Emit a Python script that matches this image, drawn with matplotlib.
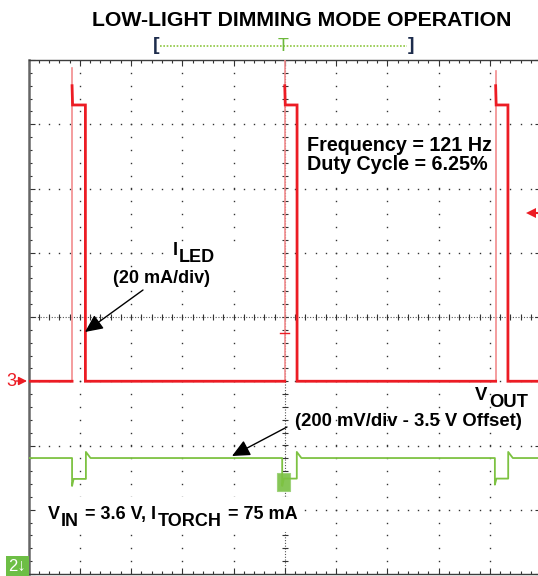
import numpy as np
import matplotlib
matplotlib.use("Agg")
import matplotlib.pyplot as plt
from matplotlib.patches import Rectangle
from matplotlib.lines import Line2D
from matplotlib.ticker import MultipleLocator

W, H = 538, 576
FONT = ["Liberation Sans", "DejaVu Sans"]
plt.rcParams["font.family"] = FONT

ms_per_div = 2.0          # time base
ma_per_div = 20.0         # I_LED scale
v_per_div = 0.2           # V_OUT scale
v_offset = 3.5            # V_OUT offset
ch3_ref_div = -1.0        # I_LED ground marker position
ch2_ref_div = -4.5        # V_OUT reference (below screen)

led_rise_ms = [-8.30, 0.00, 8.23]
led_fall_ms = [-7.78, 0.48, 8.71]
led_edge_peak_mA = [97.5, 100.0, 96.7]
led_step_mA = [92.0, 92.0, 92.0]
led_on_mA = [86.0, 86.0, 86.0]
led_off_mA = 0.0

vout_dip_start_ms = [-8.30, -0.10, 8.20]
vout_dip_end_ms = [-7.76, 0.47, 8.72]
vout_idle_V = 3.961
vout_dip_peak_V = [3.874, 3.874, 3.878]
vout_dip_V = [3.896, 3.897, 3.897]
vout_overshoot_V = [3.980, 3.980, 3.980]

title = "LOW-LIGHT DIMMING MODE OPERATION"
freq_text = "Frequency = 121 Hz"
duty_text = "Duty Cycle = 6.25%"

# ---------------- figure ----------------
fig = plt.figure(figsize=(W / 100, H / 100), dpi=100, facecolor="white")
ax = fig.add_axes([28.5 / W, 1 - 574 / H, 512.5 / W, 514 / H])
ax.set_xlim(-5, 5)
ax.set_ylim(-4, 4)
ax.set_facecolor("white")


def P(x, y):
    return (x / W, 1 - y / H)


def D(px, py):
    return ((px - 284.75) / 51.25, (317 - py) / 64.25)


# border ticks
ax.xaxis.set_major_locator(MultipleLocator(1))
ax.xaxis.set_minor_locator(MultipleLocator(0.2))
ax.yaxis.set_major_locator(MultipleLocator(1))
ax.yaxis.set_minor_locator(MultipleLocator(0.2))
ax.tick_params(which="both", direction="in", top=True, right=True,
               labelbottom=False, labelleft=False, color="#333333", width=0.8)
ax.tick_params(which="major", length=4)
ax.tick_params(which="minor", length=2.5)
for s in ax.spines.values():
    s.set_color("#3c3c3c")
    s.set_linewidth(1.0)
ax.spines["left"].set_linewidth(1.8)
ax.spines["left"].set_color("#666666")

# grid dots
fine_x = np.arange(-5, 5.001, 0.2)
fine_y = np.arange(-4, 4.001, 0.2)
for k in range(-4, 5):
    if k == 0:
        continue
    ax.plot(np.full(fine_y.size, k), fine_y, ls="none", marker="s", ms=1.0,
            color="#333333", mew=0, zorder=1)
for k in range(-3, 4):
    if k == 0:
        continue
    ax.plot(fine_x, np.full(fine_x.size, k), ls="none", marker="s", ms=1.0,
            color="#333333", mew=0, zorder=1)
# center axes
ax.plot([-5, 5], [0, 0], ls=(0, (1, 1.5)), lw=0.8, color="#555555", zorder=1)
ax.plot([0, 0], [-4, 4], ls=(0, (1, 1.5)), lw=0.8, color="#555555", zorder=1)
ax.plot(fine_x, np.zeros(fine_x.size), ls="none", marker="|", ms=4, mew=0.8,
        color="#333333", zorder=1)
ax.plot(np.zeros(fine_y.size), fine_y, ls="none", marker="_", ms=4, mew=0.8,
        color="#333333", zorder=1)


# white label backgrounds
def wbox(x0, y0, x1, y1):
    a = D(x0, y1)
    b = D(x1, y0)
    ax.add_patch(Rectangle(a, b[0] - a[0], b[1] - a[1], fc="white", ec="none", zorder=1.5))


wbox(300, 128, 493, 183)
wbox(166, 243, 282, 290)
wbox(34, 497, 304, 532)

# ---------------- traces ----------------
RED = "#EC1C24"
PINK = "#F28C8E"
GREEN = "#7DC242"

# I_LED thick trace (rising edges drawn thin separately)
t0, t1 = -10.6, 10.6
rx, ry = [t0], [led_off_mA]
for r, f, st, on in zip(led_rise_ms, led_fall_ms, led_step_mA, led_on_mA):
    rx += [r, np.nan, r, r + 0.02, f, f]
    ry += [led_off_mA, np.nan, st, on, on, led_off_mA]
rx.append(t1)
ry.append(led_off_mA)
rx = np.array(rx) / ms_per_div
ry = ch3_ref_div + np.array(ry) / ma_per_div
for r, pk in zip(led_rise_ms, led_edge_peak_mA):
    ax.plot([r / ms_per_div] * 2,
            [ch3_ref_div + led_off_mA / ma_per_div, ch3_ref_div + pk / ma_per_div],
            color=PINK, lw=1.2, zorder=2.8)
ax.plot(rx, ry, color=RED, lw=2.0, zorder=3, solid_joinstyle="miter")

# V_OUT trace
gx, gy = [t0], [vout_idle_V]
for s, e, pk, dp, ov in zip(vout_dip_start_ms, vout_dip_end_ms, vout_dip_peak_V,
                            vout_dip_V, vout_overshoot_V):
    gx += [s, s, s + 0.06, e, e, e + 0.18]
    gy += [vout_idle_V, pk, dp, dp, ov, vout_idle_V]
gx.append(t1)
gy.append(vout_idle_V)
gx = np.array(gx) / ms_per_div
gy = ch2_ref_div + (np.array(gy) - v_offset) / v_per_div

# trigger-point marker box
a = D(277, 491)
b = D(289.5, 473)
ax.add_patch(Rectangle(a, b[0] - a[0], b[1] - a[1], fc="#86C656", ec="#9ED27A",
                       lw=0.8, zorder=2.5))
ax.plot(gx, gy, color=GREEN, lw=1.3, zorder=3)

# red trigger tick at center and trigger-level marker at right
p, q = D(280, 333), D(289, 333)
ax.plot([p[0], q[0]], [p[1], q[1]], color=RED, lw=1.0, zorder=3)
m = D(530.5, 213)
m2 = D(538, 213)
ax.plot([m[0], m2[0]], [m[1], m2[1]], color=RED, lw=1.5, zorder=4, clip_on=False)
ax.plot([m[0]], [m[1]], marker="<", ms=7, color=RED, mew=0, zorder=4, clip_on=False)

# ---------------- text ----------------
fig.text(*P(302, 26), title, ha="center", va="baseline", fontsize=15.3,
         fontweight="bold", color="black")
fig.text(*P(156, 46), "[", ha="center", va="center", fontsize=14,
         fontweight="bold", color="#1d2c4c")
fig.text(*P(411, 46), "]", ha="center", va="center", fontsize=14,
         fontweight="bold", color="#1d2c4c")
fig.add_artist(Line2D([160 / W, 407 / W], [1 - 46 / H] * 2, color="#8DC63F",
                      lw=1.2, ls=(0, (1, 1))))
fig.text(*P(283, 46.5), "T", ha="center", va="center", fontsize=13,
         color="#6CB83A")

fig.text(*P(307, 151), freq_text, ha="left", va="baseline", fontsize=14.2,
         fontweight="bold")
fig.text(*P(307, 170.5), duty_text, ha="left", va="baseline", fontsize=14.2,
         fontweight="bold")

renderer = fig.canvas.get_renderer()


def rich(x, y, parts, size, gap=1.5):
    em = size * 100 / 72
    cx = x
    for text, dy in parts:
        lead = len(text) - len(text.lstrip(" "))
        trail = len(text) - len(text.rstrip(" "))
        cx += lead * 0.278 * em
        t = fig.text(cx / W, 1 - (y + dy) / H, text.strip(" "), fontsize=size,
                     fontweight="bold", va="baseline", ha="left", color="black",
                     zorder=5)
        bb = t.get_window_extent(renderer)
        cx = bb.x1 + gap + trail * 0.278 * em


rich(172.7, 255, [("I", 0), ("LED", 7)], 13)
fig.text(*P(112.7, 283), "(20 mA/div)", ha="left", va="baseline", fontsize=13,
         fontweight="bold")
rich(475, 400, [("V", 0), ("OUT", 7)], 13.3)
fig.text(*P(295, 426.5), "(200 mV/div - 3.5 V Offset)", ha="left",
         va="baseline", fontsize=13.3, fontweight="bold")
rich(47.4, 518.8, [("V", 0), ("IN", 7.5), (" = 3.6 V, I", 0), ("TORCH", 7.5),
                   (" = 75 mA", 0)], 13)

# arrows
ax.annotate("", xy=P(85, 332), xytext=P(143, 290), xycoords="figure fraction",
            textcoords="figure fraction",
            arrowprops=dict(arrowstyle="-|>,head_length=0.6,head_width=0.28",
                            mutation_scale=18, color="black", lw=1.0,
                            shrinkA=0, shrinkB=0), zorder=6)
ax.annotate("", xy=P(232, 456), xytext=P(287, 427), xycoords="figure fraction",
            textcoords="figure fraction",
            arrowprops=dict(arrowstyle="-|>,head_length=0.6,head_width=0.28",
                            mutation_scale=18, color="black", lw=1.0,
                            shrinkA=0, shrinkB=0), zorder=6)

# channel markers
fig.text(*P(6, 381), "3", ha="left", va="center", fontsize=13,
         color=RED, family=FONT)
ax.annotate("", xy=P(27, 381), xytext=P(16, 381), xycoords="figure fraction",
            textcoords="figure fraction",
            arrowprops=dict(arrowstyle="-|>,head_length=0.5,head_width=0.25",
                            mutation_scale=10, color=RED, lw=1.0,
                            shrinkA=0, shrinkB=0))
fig.text(*P(8.5, 566), "2\u2193", ha="left", va="center", fontsize=12,
         color="white", family=FONT,
         bbox=dict(boxstyle="square,pad=0.15", fc="#6DBE45", ec="none"))

fig.savefig("out.png", dpi=100, facecolor="white")
